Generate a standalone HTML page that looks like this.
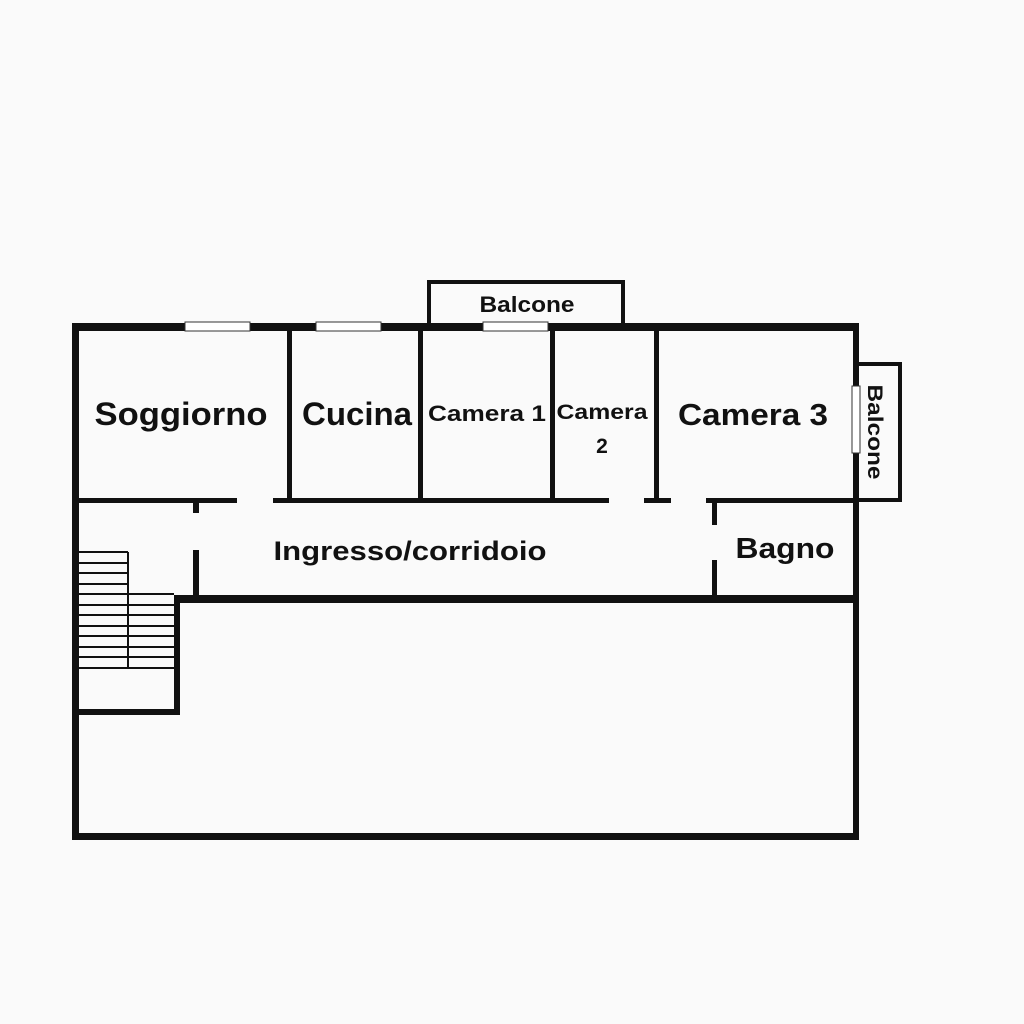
<!DOCTYPE html>
<html><head><meta charset="utf-8"><style>
html,body{margin:0;padding:0;background:#fafafa;}
svg{display:block}
text{font-family:"Liberation Sans",sans-serif;font-weight:bold;fill:#111;text-anchor:middle}
</style></head><body>
<svg width="1024" height="1024" viewBox="0 0 1024 1024" xmlns="http://www.w3.org/2000/svg">
<rect width="1024" height="1024" fill="#fafafa"/>
<g fill="#111">
<rect x="427" y="280" width="198" height="4"/>
<rect x="427" y="280" width="4" height="46"/>
<rect x="621" y="280" width="4" height="46"/>
<rect x="857" y="362" width="45" height="4"/>
<rect x="898" y="362" width="4" height="140"/>
<rect x="857" y="498" width="45" height="4"/>
<rect x="72" y="323" width="787" height="8"/>
<rect x="72" y="323" width="7" height="517"/>
<rect x="853" y="323" width="6" height="517"/>
<rect x="72" y="833" width="787" height="7"/>
<rect x="287" y="327" width="5" height="175"/>
<rect x="418" y="327" width="5" height="175"/>
<rect x="550" y="327" width="5" height="175"/>
<rect x="654" y="327" width="5" height="175"/>
<rect x="78" y="498" width="159" height="5"/>
<rect x="273" y="498" width="336" height="5"/>
<rect x="644" y="498" width="27" height="5"/>
<rect x="706" y="498" width="150" height="5"/>
<rect x="193" y="500" width="6" height="13"/>
<rect x="193" y="550" width="6" height="48"/>
<rect x="712" y="500" width="5" height="25"/>
<rect x="712" y="560" width="5" height="40"/>
<rect x="174" y="595" width="682" height="8"/>
<rect x="174" y="595" width="6" height="120"/>
<rect x="78" y="709" width="102" height="6"/>
</g>
<g stroke="#111" stroke-width="2">
<line x1="79" y1="552" x2="128" y2="552"/><line x1="79" y1="563" x2="128" y2="563"/>
<line x1="79" y1="573" x2="128" y2="573"/><line x1="79" y1="584" x2="128" y2="584"/>
<line x1="79" y1="594" x2="174" y2="594"/><line x1="79" y1="605" x2="174" y2="605"/>
<line x1="79" y1="615" x2="174" y2="615"/><line x1="79" y1="626" x2="174" y2="626"/>
<line x1="79" y1="636" x2="174" y2="636"/><line x1="79" y1="647" x2="174" y2="647"/>
<line x1="79" y1="657" x2="174" y2="657"/><line x1="79" y1="668" x2="174" y2="668"/>
<line x1="128" y1="552" x2="128" y2="668"/>
</g>
<g fill="#fff" stroke="#333" stroke-width="1">
<rect x="185" y="322" width="65" height="9"/>
<rect x="316" y="322" width="65" height="9"/>
<rect x="483" y="322" width="65" height="9"/>
<rect x="852" y="386" width="8" height="67"/>
</g>
<text x="181" y="425" font-size="32" textLength="173" lengthAdjust="spacingAndGlyphs">Soggiorno</text>
<text x="357" y="425" font-size="32" textLength="110" lengthAdjust="spacingAndGlyphs">Cucina</text>
<text x="487" y="421" font-size="22" textLength="118" lengthAdjust="spacingAndGlyphs">Camera 1</text>
<text x="602" y="419" font-size="21" textLength="91" lengthAdjust="spacingAndGlyphs">Camera</text>
<text x="602" y="453" font-size="21">2</text>
<text x="753" y="425" font-size="31" textLength="150" lengthAdjust="spacingAndGlyphs">Camera 3</text>
<text x="410" y="560" font-size="27" textLength="273" lengthAdjust="spacingAndGlyphs">Ingresso/corridoio</text>
<text x="785" y="558" font-size="29" textLength="99" lengthAdjust="spacingAndGlyphs">Bagno</text>
<text x="527" y="312" font-size="22" textLength="95" lengthAdjust="spacingAndGlyphs">Balcone</text>
<text x="0" y="0" font-size="21" textLength="95" lengthAdjust="spacingAndGlyphs" transform="translate(868,432) rotate(90)">Balcone</text>
</svg>
</body></html>
